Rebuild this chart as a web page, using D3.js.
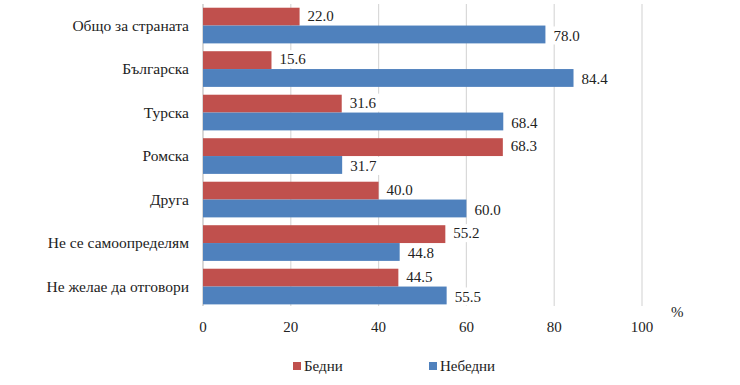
<!DOCTYPE html>
<html>
<head>
<meta charset="utf-8">
<script src="https://cdn.jsdelivr.net/npm/d3@7"></script>
<style>
  body { margin: 0; background: #fff; }
</style>
</head>
<body>
<div id="chart"></div>
<script>
const categories = ["Общо за страната", "Българска", "Турска", "Ромска", "Друга", "Не се самоопределям", "Не желае да отговори"]
const poor = [22.0, 15.6, 31.6, 68.3, 40.0, 55.2, 44.5]
const nonPoor = [78.0, 84.4, 68.4, 31.7, 60.0, 44.8, 55.5]
const seriesNames = ["Бедни", "Небедни"]
const seriesColors = ["#C0504D", "#4F81BD"]
const xTicks = [0, 20, 40, 60, 80, 100]

const FONT = "Liberation Serif"
const width = 740, height = 385
const svg = d3.select("#chart").append("svg")
    .attr("width", width)
    .attr("height", height)

const x = d3.scaleLinear().domain([0, 100]).range([203, 642])
const y = d3.scaleBand().domain(categories).range([3.8, 308.3])
    .paddingInner(0.18).paddingOuter(0.09)
const sub = d3.scaleBand().domain([0, 1]).range([0, y.bandwidth()])

// gridlines
svg.append("g")
    .selectAll("line")
    .data(xTicks)
    .join("line")
    .attr("x1", d => x(d)).attr("x2", d => x(d))
    .attr("y1", 4).attr("y2", 306)
    .attr("stroke", d => d === 0 ? "#BFBFBF" : "#D9D9D9")
    .attr("stroke-width", 1.2)

// tick labels
svg.append("g")
    .selectAll("text")
    .data(xTicks)
    .join("text")
    .attr("font-family", FONT).attr("font-size", 15)
    .attr("text-anchor", "middle")
    .attr("x", d => x(d))
    .attr("y", 332)
    .attr("fill", "#222")
    .text(d => d)

svg.append("text")
    .attr("font-family", FONT).attr("font-size", 15)
    .attr("x", 671).attr("y", 317)
    .attr("fill", "#222")
    .text("%")

// category labels
svg.append("g")
    .selectAll("text")
    .data(categories)
    .join("text")
    .attr("font-family", FONT).attr("font-size", 15.5)
    .attr("text-anchor", "end")
    .attr("x", 189)
    .attr("y", d => y(d) + y.bandwidth() / 2)
    .attr("dy", "0.35em")
    .attr("fill", "#222")
    .text(d => d)

const rows = categories.map((c, i) => ({ cat: c, vals: [poor[i], nonPoor[i]] }))

// bars
const g = svg.append("g")
rows.forEach(r => {
    r.vals.forEach((v, s) => {
        g.append("rect")
            .attr("x", x(0))
            .attr("y", y(r.cat) + sub(s))
            .attr("width", x(v) - x(0))
            .attr("height", sub.bandwidth())
            .attr("fill", seriesColors[s])
    })
})

// value labels with white boxes
const lab = svg.append("g")
rows.forEach(r => {
    r.vals.forEach((v, s) => {
        const tx = x(v) + 8
        const ty = y(r.cat) + sub(s) + sub.bandwidth() / 2 + (s === 0 ? -1 : 1)
        lab.append("rect")
            .attr("x", tx - 3).attr("y", ty - 9)
            .attr("width", 33).attr("height", 18)
            .attr("fill", "#fff")
        lab.append("text")
            .attr("font-family", FONT).attr("font-size", 15)
            .attr("x", tx).attr("y", ty)
            .attr("dy", "0.35em")
            .attr("fill", "#222")
            .text(v.toFixed(1))
    })
})

// legend
const legendX = [293, 429]
const leg = svg.append("g")
seriesNames.forEach((n, i) => {
    leg.append("rect")
        .attr("x", legendX[i]).attr("y", 362)
        .attr("width", 8).attr("height", 8)
        .attr("fill", seriesColors[i])
    leg.append("text")
        .attr("font-family", FONT).attr("font-size", 15)
        .attr("x", legendX[i] + 11).attr("y", 366)
        .attr("dy", "0.35em")
        .attr("fill", "#222")
        .text(n)
})
</script>
</body>
</html>
